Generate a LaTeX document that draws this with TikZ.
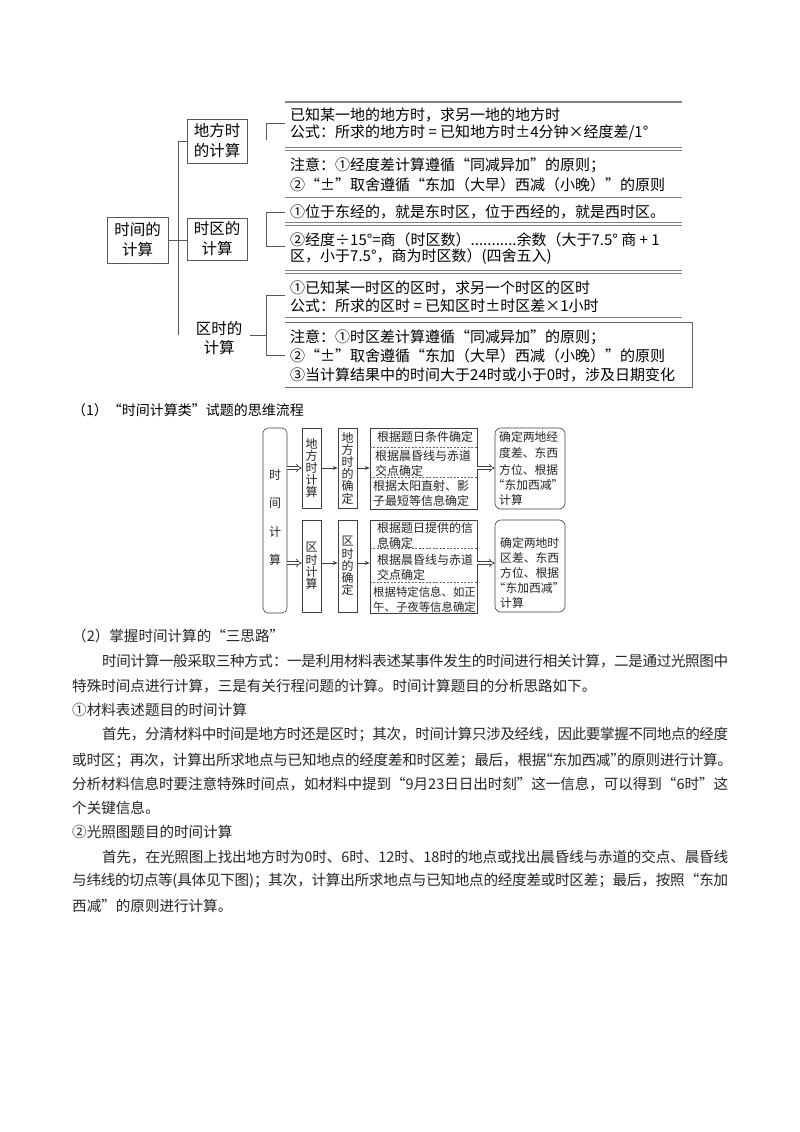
\documentclass[tikz,border=0pt]{standalone}
\usepackage{fontspec}
\setmainfont{Noto Sans CJK SC}
\usetikzlibrary{arrows.meta}
\XeTeXlinebreaklocale "zh"
\XeTeXlinebreakskip=0pt plus 2pt minus 0.6pt
\newcommand\zLQ{\makebox[1em][r]{“}}
\newcommand\zRQ{\makebox[1em][l]{”}}
\newcommand\nLQ{\makebox[0.45em][r]{“}}
\newcommand\nRQ{\makebox[0.45em][l]{”}}
\newcommand\jline[2]{\parbox{#1}{\parindent=0pt\parfillskip=0pt\tolerance=9000\relax #2\par}}
\begin{document}
\begin{tikzpicture}[x=1pt,y=-1pt,
  tl/.style={anchor=west, inner sep=0pt, font=\fontsize{15}{18}\selectfont},
  rulel/.style={draw=black!50, line width=0.9pt},
  boxl/.style={draw=black!60, line width=0.8pt},
  treebox/.style={draw=black!65, line width=0.8pt, inner sep=0pt, align=center, font=\fontsize{15.5}{20}\selectfont},
  treeline/.style={draw=black!65, line width=0.8pt},
  fbox/.style={draw=black!75, line width=0.6pt, inner sep=0pt},
  vt/.style={align=center, font=\fontsize{12}{12.2}\selectfont, text=black!85},
  ft/.style={anchor=west, inner sep=0pt, font=\fontsize{12}{14}\selectfont, text=black!85},
  ftn/.style={anchor=west, inner sep=0pt, font=\fontsize{11.4}{14}\selectfont, text=black!85},
  rt/.style={anchor=west, inner sep=0pt, font=\fontsize{11.8}{14}\selectfont, text=black!85},
  dashl/.style={draw=black!60, line width=0.5pt, dash pattern=on 2pt off 1.5pt},
  dblarr/.style={draw=black!75, double, double distance=2.2pt, line width=0.7pt, -{Implies}},
  tharr/.style={draw=black!75, line width=0.7pt, -{Stealth[length=5pt,width=4pt]}},
  body/.style={anchor=west, inner sep=0pt, font=\fontsize{14.56}{17}\selectfont, text=black!85}
]
\fill[white] (0,0) rectangle (800,1132);
\useasboundingbox (0,0) rectangle (800,1132);

% ---------- top summary ----------
\draw[rulel, line width=1.3pt] (285,102) -- (682,102);
\draw[rulel] (285,147) -- (682,147);
\draw[rulel] (285,150) -- (682,150);
\draw[rulel] (285,197) -- (682,197);
\draw[rulel] (285,222) -- (682,222);
\draw[rulel] (285,225) -- (682,225);
\draw[rulel] (285,270) -- (682,270);
\draw[rulel] (285,273) -- (682,273);
\draw[rulel] (285,317) -- (682,317);
\draw[boxl] (285,322) -- (692,322) -- (692,387) -- (285,387);

\node[tl] (a1) at (290,115) {已知某一地的地方时，求另一地的地方时};
\node[tl] (a2) at (290,132) {公式：所求的地方时 = 已知地方时±4分钟×经度差/1°};
\node[tl] (b1) at (290,165) {注意：①经度差计算遵循\zLQ 同减异加\zRQ 的原则；};
\node[tl] (b2) at (290,185) {②\zLQ ±\zRQ 取舍遵循\zLQ 东加（大早）西减（小晚）\zRQ 的原则};
\node[tl] (c1) at (290,212) {①位于东经的，就是东时区，位于西经的，就是西时区。};
\node[tl] (d1) at (290,240) {②经度÷15°=商（时区数）...........余数（大于7.5° 商 + 1};
\node[tl] (d2) at (290,257) {区，小于7.5°，商为时区数）(四舍五入)};
\node[tl] (e1) at (290,288) {①已知某一时区的区时，求另一个时区的区时};
\node[tl] (e2) at (290,306) {公式：所求的区时 = 已知区时±时区差×1小时};
\node[tl] (f1) at (290,337) {注意：①时区差计算遵循\zLQ 同减异加\zRQ 的原则；};
\node[tl] (f2) at (290,356) {②\zLQ ±\zRQ 取舍遵循\zLQ 东加（大早）西减（小晚）\zRQ 的原则};
\node[tl] (f3) at (290,375) {③当计算结果中的时间大于24时或小于0时，涉及日期变化};

% tree
\node[treebox, minimum width=61pt, minimum height=46pt] (sj) at (137.5,240) {时间的\\计算};
\node[treebox, minimum width=60pt, minimum height=44pt] (dfs) at (217,141) {地方时\\的计算};
\node[treebox, minimum width=60pt, minimum height=42pt] (sq) at (217,239) {时区的\\计算};
\node[inner sep=0pt, align=center, font=\fontsize{15.5}{19}\selectfont] (qs) at (219,338) {区时的\\计算};
\coordinate (ttop) at (178,141);
\coordinate (tbot) at (178,335);
\draw[treeline] (dfs.west) -- (ttop) -- (tbot);
\draw[treeline] (sj.east) -- (sj.east -| sq.west);

% brackets
\draw[treeline] (285,123) -- (266,123) -- (266,140);
\draw[treeline] (285,212) -- (266,212) -- (266,246) -- (285,246);
\draw[treeline] (285,295) -- (266,295) -- (266,355) -- (285,355);
\coordinate (qtick) at (250,335);
\coordinate (br3) at (266,335);
\draw[treeline] (qtick) -- (br3);

% ---------- flowchart ----------
\node[body, font=\fontsize{14}{17}\selectfont, text=black] (h1) at (72,410) {（1）\zLQ 时间计算类\zRQ 试题的思维流程};

\node[fbox, rounded corners=5pt, minimum width=24pt, minimum height=185pt] (big) at (275,520.5) {};
\node[align=center, inner sep=0pt, font=\fontsize{12}{28.5}\selectfont, text=black!85] (bigt) at (275,517.5) {时\\间\\计\\算};

\node[fbox, minimum width=19pt, minimum height=80pt, vt] (r1a) at (311.5,468) {地\\方\\时\\计\\算};
\node[fbox, minimum width=19pt, minimum height=80pt, vt] (r1b) at (347.5,468) {地\\方\\时\\的\\确\\定};
\node[fbox, minimum width=107pt, minimum height=81pt] (r1c) at (423.5,468.5) {};
\node[fbox, rounded corners=6pt, minimum width=70pt, minimum height=81pt] (r1d) at (530,468.5) {};

\node[fbox, minimum width=19pt, minimum height=92pt, vt] (r2a) at (311.5,566) {区\\时\\计\\算};
\node[fbox, minimum width=19pt, minimum height=92pt, vt] (r2b) at (347.5,566) {区\\时\\的\\确\\定};
\node[fbox, minimum width=107pt, minimum height=93pt] (r2c) at (423.5,566.5) {};
\node[fbox, rounded corners=6pt, minimum width=70pt, minimum height=92pt] (r2d) at (530,566) {};

\draw[dashl] (r1c.west |- 0,447.5) -- (r1c.east |- 0,447.5);
\draw[dashl] (r1c.west |- 0,477.5) -- (r1c.east |- 0,477.5);
\draw[dashl] (r2c.west |- 0,548) -- (r2c.east |- 0,548);
\draw[dashl] (r2c.west |- 0,582) -- (r2c.east |- 0,582);

\node[ft] (t11) at (377,437) {根据题日条件确定};
\node[ft] (t12) at (375,456) {根据晨昏线与赤道};
\node[ft] (t13) at (375,470.5) {交点确定};
\node[ft] (t14) at (373,486) {根据太阳直射、影};
\node[ft] (t15) at (373,501) {子最短等信息确定};
\node[ft] (t21) at (377,528) {根据题日提供的信};
\node[ft] (t22) at (377,542.5) {息确定};
\node[ft] (t23) at (377,560) {根据晨昏线与赤道};
\node[ft] (t24) at (377,575) {交点确定};
\node[ftn] (t25) at (373,592) {根据特定信息、如正};
\node[ftn] (t26) at (373,607) {午、子夜等信息确定};

\node[rt] (u1) at (499,437) {确定两地经};
\node[rt] (u2) at (499,453) {度差、东西};
\node[rt] (u3) at (499,469.5) {方位、根据};
\node[rt] (u4) at (499,485) {\nLQ 东加西减\nRQ};
\node[rt] (u5) at (499,500) {计算};
\node[rt] (v1) at (500,543) {确定两地时};
\node[rt] (v2) at (500,558) {区差、东西};
\node[rt] (v3) at (500,573) {方位、根据};
\node[rt] (v4) at (500,588) {\nLQ 东加西减\nRQ};
\node[rt] (v5) at (500,603) {计算};

\coordinate (ya) at (0,468);
\coordinate (yb) at (0,563);
\draw[dblarr] (big.east |- ya) -- (r1a.west |- ya);
\draw[tharr] (r1a.east |- ya) -- (r1b.west |- ya);
\draw[tharr] (r1b.east |- ya) -- (r1c.west |- ya);
\draw[dblarr] (r1c.east |- ya) -- (r1d.west |- ya);
\draw[dblarr] (big.east |- yb) -- (r2a.west |- yb);
\draw[tharr] (r2a.east |- yb) -- (r2b.west |- yb);
\draw[tharr] (r2b.east |- yb) -- (r2c.west |- yb);
\draw[dblarr] (r2c.east |- yb) -- (r2d.west |- yb);

% ---------- body text ----------
\node[body] (h2) at (72,636) {（2）掌握时间计算的\zLQ 三思路\zRQ};
\node[body] (p11) at (102,661) {\jline{626pt}{时间计算一般采取三种方式：一是利用材料表述某事件发生的时间进行相关计算，二是通过光照图中}};
\node[body] (p12) at (72,686) {特殊时间点进行计算，三是有关行程问题的计算。时间计算题目的分析思路如下。};
\node[body] (s1) at (72,710) {①材料表述题目的时间计算};
\node[body] (p21) at (102,735) {\jline{626pt}{首先，分清材料中时间是地方时还是区时；其次，时间计算只涉及经线，因此要掌握不同地点的经度}};
\node[body] (p22) at (72,760) {\jline{660pt}{或时区；再次，计算出所求地点与已知地点的经度差和时区差；最后，根据\nLQ 东加西减\nRQ 的原则进行计算。}};
\node[body] (p23) at (72,784) {\jline{656pt}{分析材料信息时要注意特殊时间点，如材料中提到\zLQ 9月23日日出时刻\zRQ 这一信息，可以得到\zLQ 6时\zRQ 这}};
\node[body] (p24) at (72,808) {个关键信息。};
\node[body] (s2) at (72,832) {②光照图题目的时间计算};
\node[body] (p31) at (102,857) {\jline{626pt}{首先，在光照图上找出地方时为0时、6时、12时、18时的地点或找出晨昏线与赤道的交点、晨昏线}};
\node[body] (p32) at (72,881) {\jline{656pt}{与纬线的切点等(具体见下图)；其次，计算出所求地点与已知地点的经度差或时区差；最后，按照\zLQ 东加}};
\node[body] (p33) at (72,906) {西减\zRQ 的原则进行计算。};
\end{tikzpicture}
\end{document}
